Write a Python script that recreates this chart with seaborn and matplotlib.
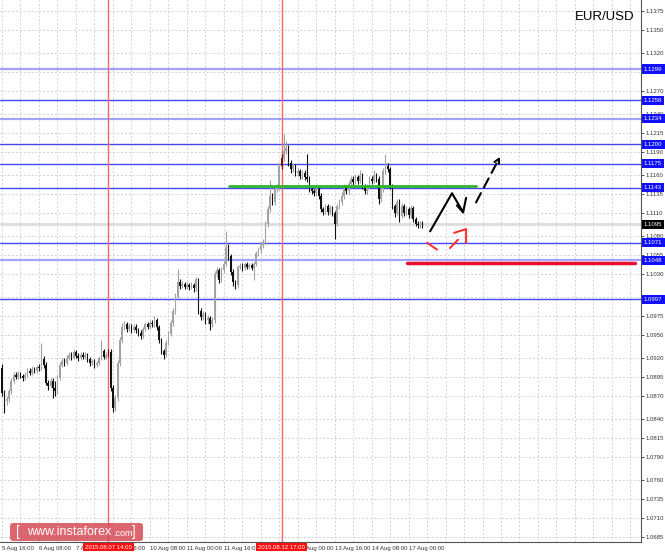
import matplotlib
matplotlib.use('Agg')
import numpy as np
import pandas as pd
import matplotlib.pyplot as plt
import matplotlib.transforms as mtransforms
from matplotlib.patches import FancyBboxPatch
import seaborn as sns

# ---------------- data (EUR/USD, H1) ----------------
first_open = 1.0907
closes = [
    1.0874, 1.0863, 1.0866, 1.0876, 1.0890, 1.0898, 1.0895, 1.0899, 1.0896, 1.0894,
    1.0898, 1.0903, 1.0900, 1.0905, 1.0903, 1.0908, 1.0907, 1.0919, 1.0911, 1.0887,
    1.0883, 1.0890, 1.0880, 1.0876, 1.0894, 1.0911, 1.0916, 1.0913, 1.0920, 1.0924,
    1.0920, 1.0927, 1.0923, 1.0920, 1.0924, 1.0921, 1.0924, 1.0919, 1.0913, 1.0916,
    1.0911, 1.0913, 1.0920, 1.0929, 1.0921, 1.0924, 1.0928, 1.0880, 1.0854, 1.0867,
    1.0913, 1.0943, 1.0960, 1.0964, 1.0958, 1.0962, 1.0957, 1.0961, 1.0956, 1.0953,
    1.0949, 1.0958, 1.0964, 1.0961, 1.0966, 1.0964, 1.0969, 1.0960, 1.0943, 1.0929,
    1.0924, 1.0940, 1.0951, 1.0966, 1.0982, 1.1000, 1.1019, 1.1014, 1.1017, 1.1013,
    1.1015, 1.1013, 1.1015, 1.1011, 1.1023, 1.0982, 1.0973, 1.0977, 1.0969, 1.0972,
    1.0964, 1.0969, 1.1030, 1.1035, 1.1022, 1.1035, 1.1043, 1.1066, 1.1053, 1.1033,
    1.1019, 1.1015, 1.1039, 1.1041, 1.1038, 1.1043, 1.1039, 1.1042, 1.1038, 1.1043,
    1.1057, 1.1062, 1.1068, 1.1072, 1.1096, 1.1115, 1.1132, 1.1125, 1.1141, 1.1144,
    1.1172, 1.1182, 1.1192, 1.1196, 1.1176, 1.1168, 1.1172, 1.1163, 1.1165, 1.1159,
    1.1163, 1.1157, 1.1155, 1.1141, 1.1139, 1.1136, 1.1141, 1.1133, 1.1115, 1.1112,
    1.1119, 1.1112, 1.1116, 1.1110, 1.1096, 1.1119, 1.1125, 1.1133, 1.1144, 1.1139,
    1.1148, 1.1155, 1.1151, 1.1157, 1.1152, 1.1159, 1.1145, 1.1139, 1.1144, 1.1155,
    1.1152, 1.1160, 1.1155, 1.1128, 1.1141, 1.1165, 1.1172, 1.1168, 1.1145, 1.1119,
    1.1110, 1.1125, 1.1106, 1.1119, 1.1110, 1.1115, 1.1107, 1.1116, 1.1102, 1.1096,
    1.1094, 1.1096, 1.1092]
highs = [
    1.0912, 1.0878, 1.0870, 1.0879, 1.0893, 1.0902, 1.0901, 1.0903, 1.0902, 1.0899,
    1.0901, 1.0906, 1.0906, 1.0909, 1.0908, 1.0911, 1.0912, 1.0939, 1.0922, 1.0914,
    1.0891, 1.0894, 1.0893, 1.0889, 1.0897, 1.0914, 1.0920, 1.0920, 1.0924, 1.0928,
    1.0927, 1.0932, 1.0930, 1.0926, 1.0928, 1.0927, 1.0927, 1.0926, 1.0921, 1.0919,
    1.0918, 1.0916, 1.0923, 1.0943, 1.0932, 1.0927, 1.0931, 1.0931, 1.0884, 1.0871,
    1.0917, 1.0947, 1.0966, 1.0968, 1.0967, 1.0966, 1.0965, 1.0964, 1.0964, 1.0959,
    1.0956, 1.0961, 1.0967, 1.0967, 1.0969, 1.0970, 1.0975, 1.0972, 1.0963, 1.0946,
    1.0932, 1.0944, 1.0955, 1.0970, 1.0986, 1.1005, 1.1036, 1.1023, 1.1021, 1.1020,
    1.1019, 1.1018, 1.1019, 1.1018, 1.1026, 1.1025, 1.0985, 1.0981, 1.0980, 1.0976,
    1.0975, 1.0973, 1.1034, 1.1039, 1.1038, 1.1039, 1.1047, 1.1086, 1.1070, 1.1056,
    1.1036, 1.1022, 1.1042, 1.1045, 1.1044, 1.1046, 1.1046, 1.1045, 1.1045, 1.1046,
    1.1060, 1.1066, 1.1072, 1.1076, 1.1100, 1.1119, 1.1154, 1.1136, 1.1145, 1.1148,
    1.1176, 1.1187, 1.1214, 1.1205, 1.1199, 1.1180, 1.1176, 1.1175, 1.1169, 1.1168,
    1.1167, 1.1166, 1.1188, 1.1158, 1.1144, 1.1142, 1.1144, 1.1144, 1.1136, 1.1118,
    1.1122, 1.1122, 1.1120, 1.1119, 1.1113, 1.1122, 1.1129, 1.1137, 1.1148, 1.1147,
    1.1152, 1.1159, 1.1158, 1.1161, 1.1160, 1.1166, 1.1162, 1.1148, 1.1148, 1.1159,
    1.1158, 1.1166, 1.1163, 1.1158, 1.1145, 1.1169, 1.1188, 1.1176, 1.1171, 1.1148,
    1.1122, 1.1129, 1.1128, 1.1123, 1.1122, 1.1119, 1.1118, 1.1120, 1.1119, 1.1105,
    1.1099, 1.1099, 1.1099]
lows = [
    1.0870, 1.0847, 1.0858, 1.0862, 1.0873, 1.0887, 1.0892, 1.0892, 1.0893, 1.0890,
    1.0891, 1.0895, 1.0897, 1.0897, 1.0900, 1.0900, 1.0903, 1.0904, 1.0907, 1.0884,
    1.0878, 1.0880, 1.0867, 1.0870, 1.0873, 1.0891, 1.0908, 1.0909, 1.0910, 1.0917,
    1.0917, 1.0918, 1.0920, 1.0916, 1.0917, 1.0918, 1.0918, 1.0915, 1.0909, 1.0910,
    1.0907, 1.0908, 1.0910, 1.0917, 1.0918, 1.0918, 1.0921, 1.0876, 1.0849, 1.0850,
    1.0863, 1.0909, 1.0939, 1.0956, 1.0954, 1.0955, 1.0953, 1.0954, 1.0952, 1.0949,
    1.0945, 1.0946, 1.0955, 1.0958, 1.0958, 1.0960, 1.0961, 1.0956, 1.0939, 1.0925,
    1.0918, 1.0921, 1.0937, 1.0948, 1.0962, 1.0978, 1.0997, 1.1010, 1.1011, 1.1010,
    1.1010, 1.1009, 1.1010, 1.1007, 1.1008, 1.0978, 1.0969, 1.0969, 1.0965, 1.0965,
    1.0957, 1.0960, 1.0966, 1.1026, 1.1018, 1.1019, 1.1031, 1.1040, 1.1049, 1.1029,
    1.1014, 1.1010, 1.1012, 1.1036, 1.1034, 1.1035, 1.1036, 1.1036, 1.1035, 1.1022,
    1.1040, 1.1053, 1.1058, 1.1064, 1.1069, 1.1092, 1.1111, 1.1120, 1.1121, 1.1137,
    1.1140, 1.1168, 1.1178, 1.1187, 1.1172, 1.1163, 1.1164, 1.1159, 1.1159, 1.1155,
    1.1155, 1.1153, 1.1151, 1.1137, 1.1135, 1.1132, 1.1133, 1.1129, 1.1111, 1.1108,
    1.1109, 1.1108, 1.1109, 1.1106, 1.1076, 1.1093, 1.1115, 1.1121, 1.1129, 1.1135,
    1.1135, 1.1145, 1.1147, 1.1148, 1.1148, 1.1149, 1.1141, 1.1135, 1.1135, 1.1141,
    1.1148, 1.1149, 1.1151, 1.1122, 1.1124, 1.1138, 1.1161, 1.1164, 1.1141, 1.1115,
    1.1105, 1.1107, 1.1098, 1.1103, 1.1106, 1.1107, 1.1103, 1.1104, 1.1098, 1.1093,
    1.1091, 1.1091, 1.1090]
opens = [first_open] + closes[:-1]

marked_bars = [46, 121]
marked_labels = ['2015.08.07 14:00', '2015.08.12 17:00']

tick_bars = [0, 16, 32, 48, 64, 80, 96, 128, 144, 160, 176]
tick_labels = ['5 Aug 16:00', '6 Aug 08:00', '7 Aug 00:00', '7 Aug 16:00',
               '10 Aug 08:00', '11 Aug 00:00', '11 Aug 16:00',
               '13 Aug 00:00', '13 Aug 16:00', '14 Aug 08:00', '17 Aug 00:00']

price_ticks = [1.1375, 1.1350, 1.1320, 1.1295, 1.1270, 1.1240, 1.1215, 1.1190,
               1.1160, 1.1135, 1.1110, 1.1080, 1.1055, 1.1030, 1.1000, 1.0975,
               1.0950, 1.0920, 1.0895, 1.0870, 1.0840, 1.0815, 1.0790, 1.0760,
               1.0735, 1.0710, 1.0685]
hidden_price_labels = [1.1295, 1.1000]

levels = [1.1299, 1.1258, 1.1234, 1.1200, 1.1175, 1.1143, 1.1071, 1.1048, 1.0997]
levels_light = [True, False, True, False, False, False, False, True, False]
current_price = 1.1095

green_level = 1.1145
green_span = [98.3, 205.2]
red_level = 1.1045
red_span = [175.3, 274.0]

# forecast sketch (bar, price)
fc_solid_x = [185.3, 194.8, 199.6, 200.9]
fc_solid_y = [1.1086, 1.1136, 1.1111, 1.1130]
fc_barb_x = [196.9, 199.6]
fc_barb_y = [1.1120, 1.1111]
fc_dash_x = [205.2, 215.6]
fc_dash_y = [1.1124, 1.1184]
red_seg1_x = [184.0, 188.3]
red_seg1_y = [1.1071, 1.1062]
red_seg2_x = [193.9, 197.4]
red_seg2_y = [1.1064, 1.1075]
red_head_x = [195.7, 200.9, 200.9]
red_head_y = [1.1084, 1.1089, 1.1071]

# ---------------- figure ----------------
sns.set_theme(style='white')
plt.rcParams['font.family'] = ['Liberation Sans', 'DejaVu Sans']

W, H = 665, 553
fig = plt.figure(figsize=(W / 100, H / 100), dpi=100)
fig.patch.set_facecolor('white')
ax_left, ax_right, ax_bottom = 0, 641, 542
ax = fig.add_axes([ax_left / W, 1 - ax_bottom / H, (ax_right - ax_left) / W, ax_bottom / H])
ax.set_facecolor('white')

n = len(closes)
df = pd.DataFrame({'bar': np.arange(n), 'open': opens, 'high': highs,
                   'low': lows, 'close': closes})
df['bull'] = df['close'] >= df['open']
colors = np.where(df['bull'], '#a3a3a3', '#111111').astype(object)
for b in marked_bars:
    colors[b] = '#7a0a0a'

ax.set_xlim(-0.87, 276.6)
ax.set_ylim(1.06783, 1.13896)

# grid
for gx in range(0, 277, 8):
    ax.axvline(gx, color='#d2d2d2', lw=0.7, ls=(0, (2, 2)), zorder=0)
for gy in price_ticks:
    ax.axhline(gy, color='#d2d2d2', lw=0.7, ls=(0, (2, 2)), zorder=0)

# levels
for lvl, light in zip(levels, levels_light):
    ax.axhline(lvl, color='#a4a4ff' if light else '#4646f0',
               lw=1.6 if light else 1.0, zorder=1)
ax.axhline(current_price, color='#dcdcdc', lw=2.0, zorder=1)

# red vertical markers
for b in marked_bars:
    ax.axvline(b, color='#ff6464', lw=1.0, zorder=1)

# candles
ax.vlines(df['bar'], df['low'], df['high'], colors=list(colors), lw=0.8, zorder=2)
body_low = np.minimum(df['open'], df['close'])
body_h = np.maximum(np.abs(df['close'] - df['open']), 0.00005)
ax.bar(df['bar'], body_h, bottom=body_low, width=0.65, color=list(colors),
       linewidth=0, zorder=2)

# green / red lines
ax.plot(green_span, [green_level, green_level], color='#2db52d', lw=2.0, zorder=3)
ax.plot(red_span, [red_level, red_level], color='#e8112d', lw=2.5, zorder=3)

# forecast sketches
ax.plot(fc_solid_x, fc_solid_y, color='black', lw=1.5, zorder=4, solid_capstyle='round')
ax.plot(fc_barb_x, fc_barb_y, color='black', lw=1.5, zorder=4)
ax.annotate('', xy=(fc_dash_x[1], fc_dash_y[1]), xytext=(fc_dash_x[0], fc_dash_y[0]),
            arrowprops=dict(arrowstyle='->', color='black', lw=1.5,
                            linestyle=(0, (5, 3)), mutation_scale=9,
                            shrinkA=0, shrinkB=0), zorder=4)
ax.plot(red_seg1_x, red_seg1_y, color='#ff2a2a', lw=1.4, zorder=4)
ax.plot(red_seg2_x, red_seg2_y, color='#ff2a2a', lw=1.4, zorder=4)
ax.plot(red_head_x, red_head_y, color='#ff2a2a', lw=1.4, zorder=4)

# axes styling
for s in ['top', 'left']:
    ax.spines[s].set_visible(False)
for s in ['right', 'bottom']:
    ax.spines[s].set_color('#555555')
    ax.spines[s].set_linewidth(0.8)

ax.yaxis.tick_right()
ax.set_yticks(price_ticks)
ax.set_yticklabels(['' if v in hidden_price_labels else f'{v:.4f}' for v in price_ticks])
ax.tick_params(axis='y', labelsize=4.3, length=2, width=0.6, pad=1.5,
               colors='#333333', direction='out')
ax.set_xticks(tick_bars)
ax.set_xticklabels(tick_labels)
for lbl in ax.get_xticklabels():
    lbl.set_ha('left')
ax.tick_params(axis='x', labelsize=4.3, length=2, width=0.6, pad=1.2,
               colors='#333333', direction='out')

# level labels on the price axis
ytrans = mtransforms.blended_transform_factory(ax.transAxes, ax.transData)
xpos = 644.0 / 641.0
for lvl in levels:
    ax.text(xpos, lvl, f'{lvl:.4f}', transform=ytrans, fontsize=4.3, color='white',
            ha='left', va='center', clip_on=False, zorder=10,
            bbox=dict(boxstyle='square,pad=0.35', fc='#1010ff', ec='none'))
ax.text(xpos, current_price, f'{current_price:.4f}', transform=ytrans, fontsize=4.3,
        color='white', ha='left', va='center', clip_on=False, zorder=10,
        bbox=dict(boxstyle='square,pad=0.35', fc='black', ec='none'))

# red time labels
xtrans = mtransforms.blended_transform_factory(ax.transData, ax.transAxes)
for b, lab in zip(marked_bars, marked_labels):
    ax.text(b, -0.0095, lab, transform=xtrans, fontsize=4.3, color='white',
            ha='center', va='center', clip_on=False, zorder=10,
            bbox=dict(boxstyle='square,pad=0.3', fc='#ff1010', ec='none'))

# symbol title
fig.text(605 / W, 1 - 17 / H, 'EUR/USD', ha='center', va='center',
         fontsize=9.5, color='black')

# watermark (sits just above the time axis)
wm = FancyBboxPatch((10, H - 541), 133, 18,
                    boxstyle='round,pad=0,rounding_size=3',
                    transform=mtransforms.IdentityTransform(),
                    fc='#d64b56', ec='none', alpha=0.85, zorder=20)
fig.add_artist(wm)
ty = 1 - 532 / H
fig.text(16 / W, ty, '[', color='white', fontsize=10, ha='left', va='center', zorder=21)
fig.text(27 / W, ty, 'www.instaforex', color='white', fontsize=9, ha='left',
         va='center', zorder=21)
fig.text(113 / W, ty - 0.002, '.com', color='white', fontsize=6.5, ha='left',
         va='center', zorder=21)
fig.text(132 / W, ty, ']', color='white', fontsize=10, ha='left', va='center', zorder=21)

fig.savefig('out.png', dpi=100, facecolor='white')
